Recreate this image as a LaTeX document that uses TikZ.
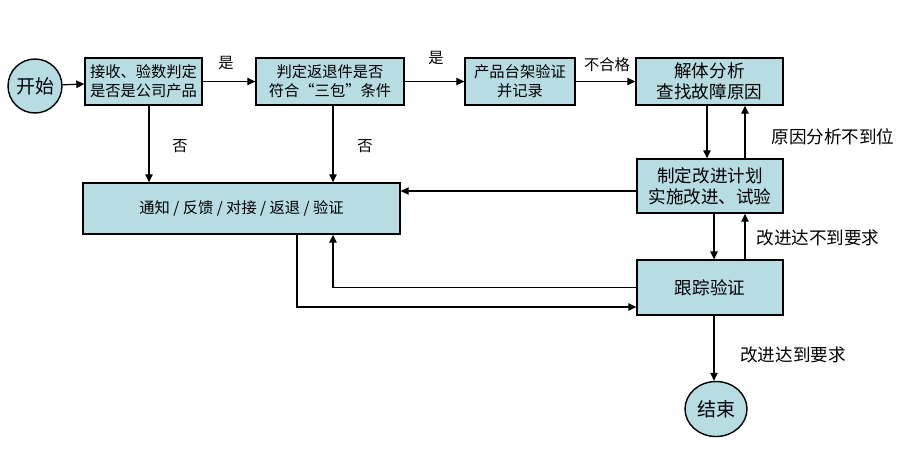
\documentclass[tikz,border=0pt]{standalone}
\usepackage{fontspec}
\setmainfont{Noto Sans CJK SC}
\usepackage{tikz}
\usetikzlibrary{arrows.meta,shapes.geometric}

\definecolor{boxfill}{RGB}{183,221,227}

\begin{document}
\begin{tikzpicture}[x=0.02cm,y=-0.02cm,
    box/.style={draw=black, line width=0.8pt, fill=boxfill, inner sep=0pt, align=center},
    flow/.style={line width=0.7pt, -{Triangle[length=1.6mm,width=1.5mm]}},
    txt/.style={font=\fontsize{8.7}{10.8}\selectfont},
    bigtxt/.style={font=\fontsize{10}{12}\selectfont}
]
\useasboundingbox (0,0) rectangle (905,458);

% Start and end
\node[draw=black, line width=0.8pt, fill=boxfill, circle, minimum size=1.08cm, inner sep=0pt,
      font=\fontsize{10.8}{12}\selectfont] (start) at (35,86) {开始};
\node[draw=black, line width=0.8pt, fill=boxfill, ellipse, minimum width=1.24cm, minimum height=1.10cm,
      inner sep=0pt, font=\fontsize{10.8}{12}\selectfont] (done) at (716,409) {结束};

% Top row
\node[box, txt, minimum width=2.34cm, minimum height=0.94cm] (recv) at (143.5,81.5) {接收、验数判定\\是否是公司产品};
\node[box, txt, minimum width=2.96cm, minimum height=0.94cm] (judge) at (330,81.5) {判定返退件是否\\符合“三包”条件};
\node[box, txt, minimum width=2.20cm, minimum height=0.94cm] (bench) at (520,81.5) {产品台架验证\\并记录};
\node[box, bigtxt, minimum width=2.94cm, minimum height=0.94cm] (teardown) at (709.5,81.5) {解体分析\\查找故障原因};

% Right column
\node[box, bigtxt, minimum width=2.92cm, minimum height=1.08cm] (improve) at (710,186) {制定改进计划\\实施改进、试验};
\node[box, bigtxt, minimum width=2.92cm, minimum height=1.10cm] (track) at (710,287.5) {跟踪验证};

% Feedback box
\node[box, txt, minimum width=6.34cm, minimum height=1.02cm] (notify) at (241.5,208.5) {通知 / 反馈 / 对接 / 返退 / 验证};

% Main flow
\draw[flow] (start) -- (recv);
\draw[flow] (recv) -- (judge);
\draw[flow] (judge) -- (bench);
\draw[flow] (bench) -- (teardown);
\draw[flow] ([xshift=0.11cm]recv.south) -- ([xshift=0.11cm]recv.south |- notify.north);
\draw[flow] ([xshift=0.06cm]judge.south) -- ([xshift=0.06cm]judge.south |- notify.north);

% Loops on the right
\draw[flow] ([xshift=-0.05cm]teardown.south) -- ([xshift=-0.05cm]teardown.south |- improve.north);
\draw[flow] ([xshift=0.7cm]improve.north) -- ([xshift=0.7cm]improve.north |- teardown.south);
\draw[flow] ([xshift=0.08cm]improve.south) -- ([xshift=0.08cm]improve.south |- track.north);
\draw[flow] ([xshift=0.7cm]track.north) -- ([xshift=0.7cm]track.north |- improve.south);
\draw[flow] ([xshift=0.08cm]track.south) -- ([xshift=0.08cm]track.south |- done.north);

% Back to feedback box
\draw[flow] ([yshift=-0.1cm]improve.west) -- ([yshift=-0.1cm]improve.west -| notify.east);
\coordinate (fbin) at ([xshift=1.83cm]notify.south);
\draw[flow] (track.west) -| (fbin);
\draw[flow] ([xshift=1.11cm]notify.south) |- ([yshift=-0.39cm]track.west);

% Labels
\node[txt] (yes1) at (226,63) {是};
\node[txt] (yes2) at (436,58) {是};
\node[txt] (fail) at (607,65) {不合格};
\node[txt] (no1) at (180,146) {否};
\node[txt] (no2) at (365,146) {否};
\node[bigtxt] (cause) at (833,137) {原因分析不到位};
\node[bigtxt] (notok) at (818,238) {改进达不到要求};
\node[bigtxt] (ok) at (793,355) {改进达到要求};

\end{tikzpicture}
\end{document}
